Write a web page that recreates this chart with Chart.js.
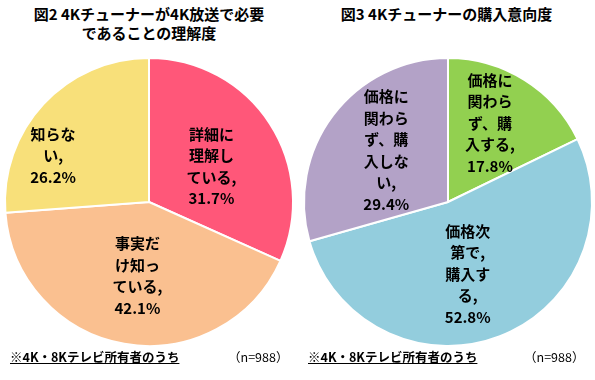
<!DOCTYPE html>
<html>
<head>
<meta charset="utf-8">
<script src="https://cdn.jsdelivr.net/npm/chart.js@4.4.1/dist/chart.umd.min.js"></script>
<style>
  html, body { margin:0; padding:0; background:#fff; }
  body { width:595px; height:380px; position:relative; overflow:hidden;
         font-family:"Noto Sans CJK JP", sans-serif; color:#000; }
  .pane { position:absolute; top:0; height:380px; }
  .title { position:absolute; top:4px; left:0; width:100%; text-align:center;
           font-weight:bold; font-size:15px; line-height:19px; }
  .note { position:absolute; top:348px; font-weight:bold; font-size:12.5px;
          line-height:17px; text-decoration:underline; white-space:nowrap; }
  .count { position:absolute; top:348px; font-size:12.5px; line-height:17px; white-space:nowrap; }
  canvas { position:absolute; left:0; top:0; }
</style>
</head>
<body>
<div class="pane" style="left:0;width:298px">
  <div class="title">図2 4Kチューナーが4K放送で必要<br>であることの理解度</div>
  <canvas id="leftChart" width="298" height="380"></canvas>
  <div class="note" style="left:10px">※4K・8Kテレビ所有者のうち</div>
  <div class="count" style="left:228px">（n=988）</div>
</div>
<div class="pane" style="left:298px;width:297px">
  <div class="title">図3 4Kチューナーの購入意向度</div>
  <canvas id="rightChart" width="297" height="380"></canvas>
  <div class="note" style="left:10px">※4K・8Kテレビ所有者のうち</div>
  <div class="count" style="left:226px">（n=988）</div>
</div>
<script>
// 図2 理解度
const leftCategories = ['詳細に理解している', '事実だけ知っている', '知らない'];
const leftValues = [31.7, 42.1, 26.2];
const leftLabelLines = [['詳細に', '理解し', 'ている,'], ['事実だ', 'け知っ', 'ている,'], ['知らな', 'い,']];
const leftColors = ['#FF5779', '#FAC090', '#F8E07A'];

// 図3 購入意向度
const rightCategories = ['価格に関わらず、購入する', '価格次第で、購入する', '価格に関わらず、購入しない'];
const rightValues = [17.8, 52.8, 29.4];
const rightLabelLines = [['価格に', '関わら', 'ず、購', '入する,'], ['価格次', '第で,', '購入す', 'る,'], ['価格に', '関わら', 'ず、購', '入しな', 'い,']];
const rightColors = ['#92D050', '#93CDDD', '#B3A2C7'];

// スライス内の複数行ラベル
const sliceLabels = {
  id: 'sliceLabels',
  afterDatasetsDraw(chart, args, opts) {
    const ctx = chart.ctx;
    const meta = chart.getDatasetMeta(0);
    const values = chart.data.datasets[0].data;
    ctx.save();
    ctx.font = 'bold 15px "Noto Sans CJK JP"';
    ctx.fillStyle = '#000';
    ctx.textAlign = 'center';
    ctx.textBaseline = 'middle';
    meta.data.forEach((arc, i) => {
      const p = opts.place[i] || { f: 0.55, da: 0 };
      const mid = (arc.startAngle + arc.endAngle) / 2 + p.da * Math.PI / 180;
      const r = arc.outerRadius * p.f;
      const cx = arc.x + Math.cos(mid) * r;
      const cy = arc.y + Math.sin(mid) * r;
      const lines = opts.lines[i].concat([values[i].toFixed(1) + '%']);
      const lh = 21.5;
      const y0 = cy - (lines.length - 1) * lh / 2;
      lines.forEach((t, k) => ctx.fillText(t, cx, y0 + k * lh));
    });
    ctx.restore();
  }
};

function makePie(id, labels, values, colors, lines, place, padding) {
  return new Chart(document.getElementById(id), {
    type: 'pie',
    data: { labels, datasets: [{ data: values, backgroundColor: colors, borderColor: '#fff', borderWidth: 2 }] },
    options: {
      responsive: false,
      animation: false,
      layout: { padding },
      plugins: {
        legend: { display: false },
        tooltip: { enabled: false },
        sliceLabels: { lines, place }
      }
    },
    plugins: [sliceLabels]
  });
}

makePie('leftChart', leftCategories, leftValues, leftColors, leftLabelLines,
  [{ f: 0.50, da: 3 }, { f: 0.52, da: -1 }, { f: 0.74, da: -17 }],
  { left: 4, right: 4, top: 57, bottom: 33 });

makePie('rightChart', rightCategories, rightValues, rightColors, rightLabelLines,
  [{ f: 0.62, da: -4 }, { f: 0.52, da: 5.6 }, { f: 0.56, da: 3 }],
  { left: 5, right: 2, top: 57, bottom: 33 });
</script>
</body>
</html>
